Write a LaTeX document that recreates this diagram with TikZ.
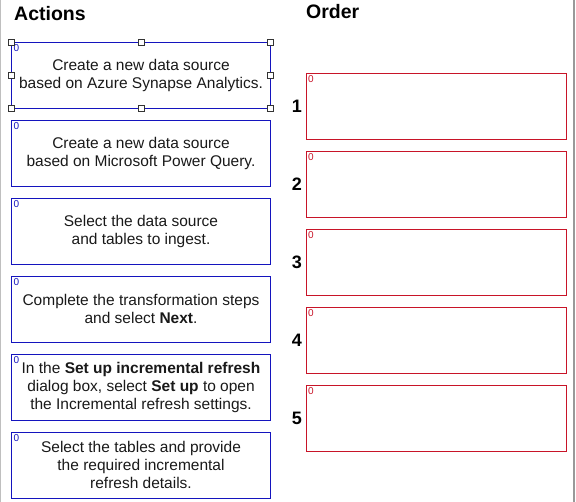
\documentclass[tikz,border=0pt]{standalone}
\usepackage{fontspec}
\setmainfont{Liberation Sans}
\usetikzlibrary{positioning}
\definecolor{actblue}{RGB}{20,20,190}
\definecolor{slotred}{RGB}{200,20,40}
\definecolor{txtgray}{RGB}{25,25,25}
\tikzset{
  action/.style={draw=actblue, thick, align=center, inner sep=0pt, outer sep=0pt, minimum width=259pt, minimum height=66pt, text=txtgray, font=\fontsize{15.5}{18}\selectfont},
  slot/.style={draw=slotred, thick, inner sep=0pt, outer sep=0pt, minimum width=260pt, minimum height=66pt},
  tagblue/.style={anchor=north west, inner sep=2pt, text=actblue, font=\fontsize{10}{10}\selectfont},
  tagred/.style={anchor=north west, inner sep=2pt, text=slotred, font=\fontsize{10}{10}\selectfont},
  handle/.style={draw=black!80, fill=white, inner sep=0pt, minimum size=6pt},
  num/.style={inner sep=0pt, font=\fontsize{18}{18}\selectfont\bfseries},
  heading/.style={anchor=west, inner sep=0pt, font=\fontsize{19.5}{19.5}\selectfont\bfseries}
}
\begin{document}
\begin{tikzpicture}[x=1pt, y=-1pt, node distance=12pt]
    \useasboundingbox (0,0) rectangle (576,502);
    \draw[black!25, thick] (0.7,0) -- (0.7,502);
    \draw[black!40, very thick] (574,0) -- (574,502);

    \node[heading] (hact) at (14,14) {Actions};
    \node[heading] (hord) at (306,12) {Order};

    % actions
    \node[action] (a1) at (141,75) {Create a new data source\\based on Azure Synapse Analytics.};
    \node[action, below=of a1] (a2) {Create a new data source\\based on Microsoft Power Query.};
    \node[action, below=of a2] (a3) {Select the data source\\and tables to ingest.};
    \node[action, below=of a3] (a4) {Complete the transformation steps\\and select \textbf{Next}.};
    \node[action, below=of a4] (a5) {In the \textbf{Set up incremental refresh}\\dialog box, select \textbf{Set up} to open\\the Incremental refresh settings.};
    \node[action, below=of a5] (a6) {Select the tables and provide\\the required incremental\\refresh details.};
    \foreach \i in {1,...,6}
      \node[tagblue] (ta\i) at (a\i.north west) {0};

    % selection handles
    \foreach \p in {north west, north, north east, east, south east, south, south west, west}
      \node[handle] at (a1.\p) {};

    % order slots
    \node[slot] (s1) at (436,106) {};
    \node[slot, below=of s1] (s2) {};
    \node[slot, below=of s2] (s3) {};
    \node[slot, below=of s3] (s4) {};
    \node[slot, below=of s4] (s5) {};
    \foreach \i in {1,...,5} {
      \node[tagred] (ts\i) at (s\i.north west) {0};
      \node[num, left=4pt of s\i] (n\i) {\i};
    }
\end{tikzpicture}
\end{document}
